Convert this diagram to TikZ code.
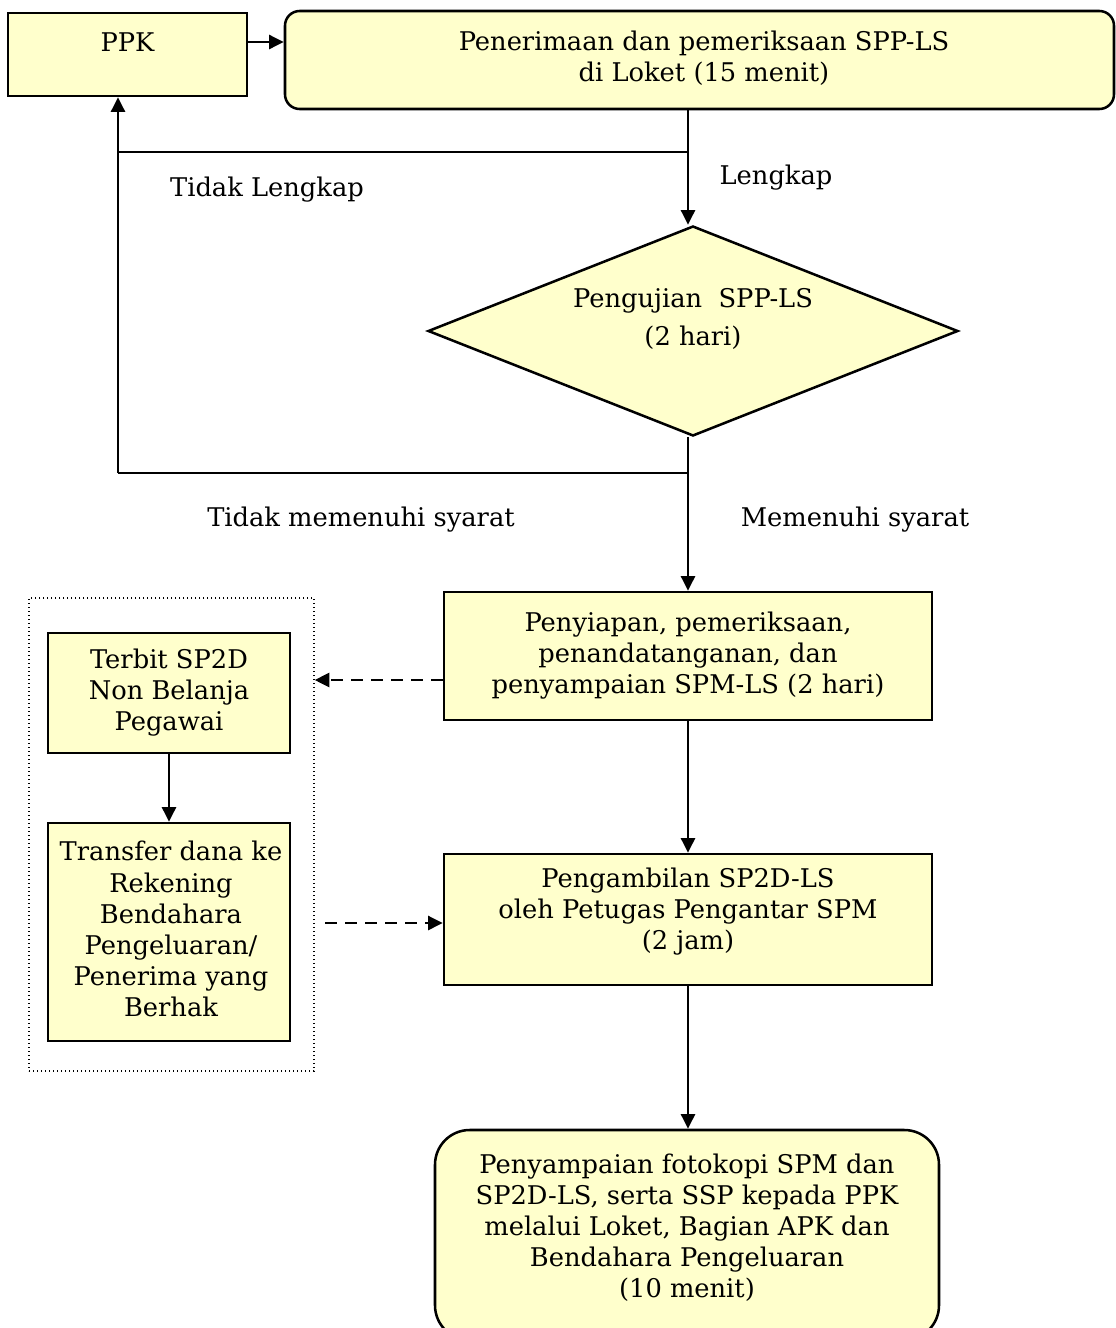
\documentclass[tikz,border=0pt]{standalone}
\usepackage{fontspec}
\setmainfont{DejaVu Serif}
\usetikzlibrary{arrows.meta,shapes.geometric}
\definecolor{boxfill}{HTML}{FFFFCC}
\tikzset{
  every node/.style={font=\fontsize{19.3}{23.3}\selectfont},
  box/.style={draw, line width=1.9pt, fill=boxfill, inner sep=0pt, align=center},
  rbox/.style={box, rounded corners=#1},
  txt/.style={align=center, inner sep=0pt},
  arr/.style={line width=1.9pt, -{Triangle[length=11pt,width=10.5pt]}},
  plain/.style={line width=1.9pt},
  darr/.style={line width=1.9pt, dash pattern=on 9pt off 6pt, -{Triangle[length=11pt,width=10.5pt]}},
}
\begin{document}
\begin{tikzpicture}[x=0.75pt,y=-0.75pt]
\useasboundingbox (0,0) rectangle (1116,1328);

% boxes
\node[box, minimum width=179.25pt, minimum height=62.25pt] (ppk) at (127.5,54.5) {};
\node[txt] (ppkt) at (127.5,42) {PPK};

\node[rbox=11pt, minimum width=621.75pt, minimum height=73.5pt] (lok) at (699.5,60) {};
\node[txt] (lokt) at (704,58) {Penerimaan dan pemeriksaan SPP-LS\\di Loket (15 menit)};

\node[draw, line width=1.9pt, fill=boxfill, shape=diamond, minimum width=397.5pt, minimum height=157.5pt, inner sep=0pt] (dia) at (693,331) {};
\node[txt] (diat) at (693,319) {Pengujian\ \ SPP-LS\\[5pt](2 hari)};

\node[box, minimum width=366pt, minimum height=96pt] (b3) at (688,656) {Penyiapan, pemeriksaan,\\penandatanganan, dan\\penyampaian SPM-LS (2 hari)};

\node[draw, line width=1pt, dotted, minimum width=213.75pt, minimum height=354.75pt, inner sep=0pt] (cont) at (171.5,834.5) {};

\node[box, minimum width=181.5pt, minimum height=90pt] (terbit) at (169,693) {Terbit SP2D\\Non Belanja\\Pegawai};
\node[box, minimum width=181.5pt, minimum height=163.5pt] (transfer) at (169,932) {};
\node[txt] (transt) at (171,929) {Transfer dana ke\\Rekening\\Bendahara\\Pengeluaran/\\Penerima yang\\Berhak};

\node[box, minimum width=366pt, minimum height=98.25pt] (b4) at (688,919.5) {};
\node[txt] (b4t) at (688,912) {Pengambilan SP2D-LS\\oleh Petugas Pengantar SPM\\(2 jam)};

\node[rbox=26pt, minimum width=378pt, minimum height=157.5pt] (b5) at (687,1235) {};
\node[txt] (b5t) at (687,1228) {Penyampaian fotokopi SPM dan\\SP2D-LS, serta SSP kepada PPK\\melalui Loket, Bagian APK dan\\Bendahara Pengeluaran\\(10 menit)};

% labels
\node[txt] (l1) at (267,190) {Tidak Lengkap};
\node[txt] (l2) at (776,178) {Lengkap};
\node[txt] (l3) at (361,520) {Tidak memenuhi syarat};
\node[txt] (l4) at (855,520) {Memenuhi syarat};

% helper coordinates
\coordinate (spine) at (688,0);
\coordinate (ret) at (118,0);
\coordinate (y1) at (0,152);
\coordinate (y2) at (0,473);
\coordinate (ya) at (0,42);
\coordinate (yd1) at (0,680);
\coordinate (ds2) at (325,923);

% connectors
\draw[arr] (ppk.east |- ya) -- (lok.west |- ya);
\draw[arr] (spine |- lok.south) -- (spine |- dia.north);
\draw[plain] (spine |- y1) -- (ret |- y1);
\draw[plain] (spine |- dia.south) -- (spine |- y2) -- (ret |- y2);
\draw[arr] (ret |- y2) -- (ret |- ppk.south);
\draw[arr] (spine |- dia.south) -- (spine |- b3.north);
\draw[darr] (b3.west |- yd1) -- (cont.east |- yd1);
\draw[arr] (terbit) -- (transfer);
\draw[darr] (ds2) -- (b4.west |- ds2);
\draw[arr] (spine |- b3.south) -- (spine |- b4.north);
\draw[arr] (spine |- b4.south) -- (spine |- b5.north);
\end{tikzpicture}
\end{document}
